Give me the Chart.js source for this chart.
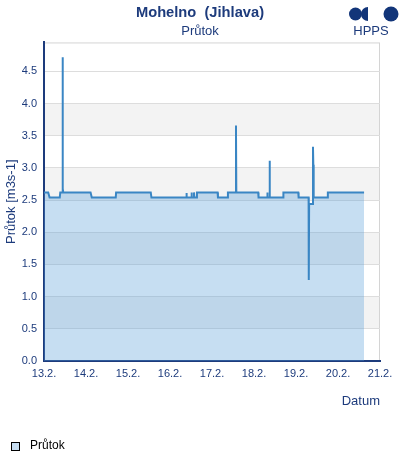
<!DOCTYPE html>
<html>
<head>
<meta charset="utf-8">
<script src="https://cdn.jsdelivr.net/npm/chart.js@4.4.1/dist/chart.umd.min.js"></script>
<style>
  html, body { margin: 0; padding: 0; background: #fff; }
</style>
</head>
<body>
<canvas id="chart" width="400" height="460"></canvas>
<script>
'use strict'

//hours since 13.2. 00:00
let hours = [0, 2.4, 3.2, 9.0, 9.3, 10.5, 10.6, 10.8, 11.0, 26.6, 27.3, 41.0, 41.2,
  61.0, 61.4, 81.3, 81.4, 81.6, 84.2, 84.3, 84.5, 85.6, 85.7, 85.9, 87.2, 87.4,
  99.2, 99.4, 104.9, 105.1, 109.5, 109.7, 109.9, 122.4, 122.6, 127.5, 127.6, 127.8,
  128.7, 128.9, 129.1, 136.6, 136.8, 145.3, 145.5, 151.2, 151.3, 151.5, 153.5,
  153.7, 153.9, 154.1, 162.0, 162.2, 182.9];
//flow m3/s
let flow = [2.62, 2.62, 2.54, 2.54, 2.62, 2.62, 4.72, 2.68, 2.62, 2.62, 2.54, 2.54, 2.62,
  2.62, 2.54, 2.54, 2.61, 2.54, 2.54, 2.62, 2.54, 2.54, 2.62, 2.54, 2.54, 2.62,
  2.62, 2.54, 2.54, 2.62, 2.62, 3.66, 2.62, 2.62, 2.54, 2.54, 2.62, 2.54,
  2.54, 3.11, 2.54, 2.54, 2.62, 2.62, 2.54, 2.54, 1.26, 2.44, 2.44,
  3.33, 3.05, 2.54, 2.54, 2.62, 2.62];

//axis ticks
let yTicks = [0, 0.5, 1.0, 1.5, 2.0, 2.5, 3.0, 3.5, 4.0, 4.5];
let xTickHours = [0, 24, 48, 72, 96, 120, 144, 168, 192];
let xTickLabels = ['13.2.', '14.2.', '15.2.', '16.2.', '17.2.', '18.2.', '19.2.', '20.2.', '21.2.'];

let navy = '#1d3b7c';
let font = 'Liberation Sans, Arial, sans-serif';

let points = [];
for (let i = 0; i < hours.length; i++){
  points.push({x: hours[i], y: flow[i]});
}

//grey bands behind the plot
let bandsPlugin = {
  id: 'bands',
  beforeDraw(chart){
    let ctx = chart.ctx;
    let a = chart.chartArea;
    let y = chart.scales.y;
    ctx.save();
    ctx.fillStyle = '#f3f3f3';
    for (let v = 0.5; v + 0.5 <= y.max; v += 1){
      let top = y.getPixelForValue(v + 0.5);
      let bot = y.getPixelForValue(v);
      ctx.fillRect(a.left, top, a.right - a.left, bot - top);
    }
    ctx.strokeStyle = '#d4d4d4';
    ctx.lineWidth = 1;
    ctx.strokeRect(a.left + 0.5, a.top + 0.5, a.right - a.left - 1, a.bottom - a.top);
    ctx.restore();
  }
};

//HPPS logo
let logoPlugin = {
  id: 'logo',
  afterDraw(chart){
    let ctx = chart.ctx;
    ctx.save();
    ctx.fillStyle = '#123579';
    ctx.beginPath();
    ctx.arc(355.5, 14, 6.5, 0, Math.PI * 2);
    ctx.fill();
    ctx.beginPath();
    ctx.arc(368, 14, 7, Math.PI / 2, Math.PI * 1.5);
    ctx.closePath();
    ctx.fill();
    ctx.beginPath();
    ctx.arc(391, 14, 7.5, 0, Math.PI * 2);
    ctx.fill();
    ctx.font = '13px ' + font;
    ctx.fillStyle = navy;
    ctx.textAlign = 'center';
    ctx.textBaseline = 'middle';
    ctx.fillText('HPPS', 371, 31.5);
    ctx.restore();
  }
};

//legend marker
let marker = document.createElement('canvas');
marker.width = 18;
marker.height = 10;
let mctx = marker.getContext('2d');
mctx.fillStyle = '#c6ddf1';
mctx.fillRect(5.5, 1.5, 8, 8);
mctx.strokeStyle = '#000';
mctx.lineWidth = 1;
mctx.strokeRect(5.5, 1.5, 8, 8);

let ctx = document.getElementById('chart').getContext('2d');

let myChartObj = {
  type: 'line',
  data: {
    datasets: [{
      label: 'Průtok',
      data: points,
      borderColor: '#3a86c4',
      borderWidth: 2,
      backgroundColor: 'rgba(82,155,215,0.33)',
      fill: 'origin',
      tension: 0,
      pointRadius: 0
    }]
  },
  options: {
    responsive: false,
    animation: false,
    layout: {
      padding: {left: 0, right: 0, top: 0, bottom: -2}
    },
    scales: {
      x: {
        type: 'linear',
        min: 0,
        max: 192,
        afterBuildTicks: function(scale){
          scale.ticks = xTickHours.map(v => ({value: v}));
        },
        afterFit: function(scale){
          scale.height = 73;
        },
        ticks: {
          color: navy,
          font: {family: font, size: 11},
          padding: 6,
          maxRotation: 0,
          callback: function(value, index){
            return xTickLabels[index];
          }
        },
        grid: {display: false, drawTicks: false},
        border: {display: true, color: navy, width: 2},
        title: {
          display: true,
          text: 'Datum',
          align: 'end',
          color: navy,
          font: {family: font, size: 13},
          padding: {top: 0, bottom: 25}
        }
      },
      y: {
        min: 0,
        max: 4.95,
        afterBuildTicks: function(scale){
          scale.ticks = yTicks.map(v => ({value: v}));
        },
        afterFit: function(scale){
          scale.width = 44;
        },
        ticks: {
          color: navy,
          font: {family: font, size: 11},
          padding: 7,
          callback: function(value){
            return value.toFixed(1);
          }
        },
        grid: {color: '#dddddd', lineWidth: 1, drawTicks: false},
        border: {display: true, color: navy, width: 2},
        title: {
          display: true,
          text: 'Průtok [m3s-1]',
          color: navy,
          font: {family: font, size: 13},
          padding: {top: 4, bottom: 0}
        }
      },
      //empty strip on the right side
      yRight: {
        position: 'right',
        grid: {display: false, drawTicks: false},
        border: {display: false},
        ticks: {display: false},
        afterFit: function(scale){
          scale.width = 20;
        }
      }
    },
    plugins: {
      title: {
        display: true,
        text: 'Mohelno  (Jihlava)',
        color: navy,
        font: {family: font, size: 14.7, weight: 'bold'},
        padding: {top: 4, bottom: 0}
      },
      subtitle: {
        display: true,
        text: 'Průtok',
        color: navy,
        font: {family: font, size: 13, weight: 'normal'},
        padding: {top: 2, bottom: 3.2}
      },
      legend: {
        display: true,
        position: 'bottom',
        align: 'start',
        labels: {
          usePointStyle: true,
          pointStyleWidth: 18,
          boxHeight: 10,
          padding: 6,
          color: navy,
          font: {family: font, size: 12},
          generateLabels: function(){
            return [{
              text: 'Průtok',
              pointStyle: marker,
              fillStyle: '#c6ddf1',
              strokeStyle: '#000',
              lineWidth: 0,
              hidden: false,
              datasetIndex: 0
            }];
          }
        }
      },
      tooltip: {enabled: false}
    }
  },
  plugins: [bandsPlugin, logoPlugin]
};

new Chart(ctx, myChartObj);
</script>
</body>
</html>
